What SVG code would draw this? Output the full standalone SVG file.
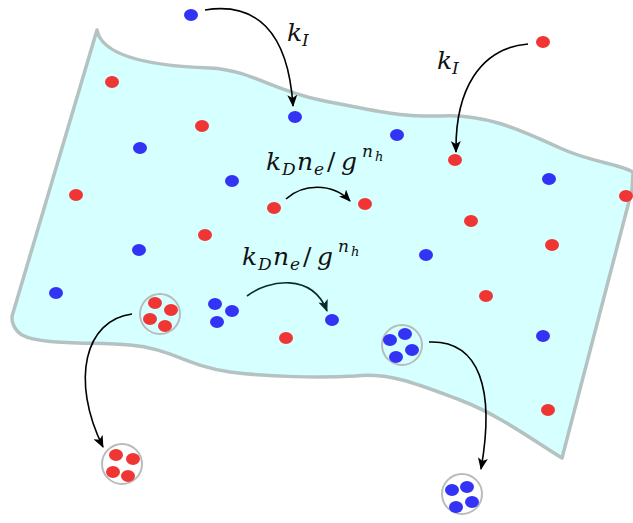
<svg xmlns="http://www.w3.org/2000/svg" width="633" height="523" viewBox="0 0 633 523">
<style>
.r{fill:#f03535}
.b{fill:#3333f5}
.cl{fill:none;stroke:#b8bcbc;stroke-width:2}
.m{font-family:"DejaVu Serif","Liberation Serif",serif;font-style:italic;font-size:25px;fill:#111}
.s{font-size:17px}
.ss{font-size:13px}
.up{font-style:normal}
.a{fill:none;stroke:#000;stroke-width:1.6}
.a2{fill:none;stroke:#0a2a2a;stroke-width:1.6}
</style>
<defs>
<marker id="ah" viewBox="0 0 12 10" refX="11" refY="5" markerWidth="12" markerHeight="10" markerUnits="userSpaceOnUse" orient="auto">
<path d="M0,0 L12,5 L0,10 L3,5 Z" fill="#000"/>
</marker>
<marker id="ah2" viewBox="0 0 12 10" refX="11" refY="5" markerWidth="12" markerHeight="10" markerUnits="userSpaceOnUse" orient="auto">
<path d="M0,0 L12,5 L0,10 L3,5 Z" fill="#0a2a2a"/>
</marker>
</defs>
<g id="membrane">
<path d="M97,30 C102,56 150,66 210,68 C250,70 272,90 320,100 C370,110 400,117 440,116 C485,113 520,130 560,148 C590,162 620,164 633,172 L632,190 C625,220 595,330 562,458 C540,445 500,415 460,400 C420,385 390,372 355,376 C320,378 270,377 230,372 C190,367 170,348 130,345 C90,342 40,345 22,335 C14,330 10,320 13,313 Z" fill="#d6ffff" stroke="#b4c2c2" stroke-width="3.5" stroke-linejoin="round"/>
</g>
<g id="particles">
<ellipse class="b" cx="191" cy="15" rx="7" ry="6"/>
<ellipse class="r" cx="543" cy="42" rx="7" ry="6"/>
<ellipse class="r" cx="112" cy="82" rx="7" ry="6"/>
<ellipse class="r" cx="202" cy="126" rx="7" ry="6"/>
<ellipse class="b" cx="295" cy="117" rx="7" ry="6"/>
<ellipse class="b" cx="397" cy="135" rx="7" ry="6"/>
<ellipse class="b" cx="140" cy="148" rx="7" ry="6"/>
<ellipse class="r" cx="455" cy="160" rx="7" ry="6"/>
<ellipse class="b" cx="232" cy="181" rx="7" ry="6"/>
<ellipse class="b" cx="549" cy="179" rx="7" ry="6"/>
<ellipse class="r" cx="76" cy="195" rx="7" ry="6"/>
<ellipse class="r" cx="274" cy="208" rx="7" ry="6"/>
<ellipse class="r" cx="365" cy="204" rx="7" ry="6"/>
<ellipse class="r" cx="626" cy="196" rx="7" ry="6"/>
<ellipse class="r" cx="471" cy="221" rx="7" ry="6"/>
<ellipse class="r" cx="205" cy="235" rx="7" ry="6"/>
<ellipse class="b" cx="139" cy="250" rx="7" ry="6"/>
<ellipse class="r" cx="552" cy="245" rx="7" ry="6"/>
<ellipse class="b" cx="426" cy="255" rx="7" ry="6"/>
<ellipse class="r" cx="486" cy="296" rx="7" ry="6"/>
<ellipse class="b" cx="56" cy="293" rx="7" ry="6"/>
<ellipse class="b" cx="215" cy="304" rx="7" ry="6"/>
<ellipse class="b" cx="232" cy="311" rx="7" ry="6"/>
<ellipse class="b" cx="217" cy="322" rx="7" ry="6"/>
<ellipse class="b" cx="332" cy="320" rx="7" ry="6"/>
<ellipse class="r" cx="286" cy="338" rx="7" ry="6"/>
<ellipse class="b" cx="543" cy="336" rx="7" ry="6"/>
<ellipse class="r" cx="548" cy="410" rx="7" ry="6"/>
</g>
<g id="cluster-red-in">
<circle class="cl" cx="160" cy="314" r="20"/>
<ellipse class="r" cx="155" cy="303" rx="7" ry="6"/>
<ellipse class="r" cx="171" cy="310" rx="7" ry="6"/>
<ellipse class="r" cx="150" cy="319" rx="7" ry="6"/>
<ellipse class="r" cx="165" cy="326" rx="7" ry="6"/>
</g>
<g id="cluster-blue-in">
<circle class="cl" cx="402" cy="345" r="20"/>
<ellipse class="b" cx="390" cy="340" rx="7" ry="6"/>
<ellipse class="b" cx="405" cy="334" rx="7" ry="6"/>
<ellipse class="b" cx="412" cy="350" rx="7" ry="6"/>
<ellipse class="b" cx="396" cy="357" rx="7" ry="6"/>
</g>
<g id="cluster-red-out">
<circle class="cl" cx="122" cy="464" r="20"/>
<ellipse class="r" cx="116" cy="455" rx="7" ry="6"/>
<ellipse class="r" cx="133" cy="459" rx="7" ry="6"/>
<ellipse class="r" cx="113" cy="472" rx="7" ry="6"/>
<ellipse class="r" cx="128" cy="476" rx="7" ry="6"/>
</g>
<g id="cluster-blue-out">
<circle class="cl" cx="462" cy="494" r="20"/>
<ellipse class="b" cx="452" cy="490" rx="7" ry="6"/>
<ellipse class="b" cx="467" cy="487" rx="7" ry="6"/>
<ellipse class="b" cx="472" cy="502" rx="7" ry="6"/>
<ellipse class="b" cx="456" cy="507" rx="7" ry="6"/>
</g>
<g id="connectors">
<path class="a" d="M205,10 C255,2 288,30 293,106" marker-end="url(#ah)"/>
<path class="a" d="M528,44 C480,48 455,90 456,152" marker-end="url(#ah)"/>
<path class="a" d="M286,199 C302,184 332,182 350,201" marker-end="url(#ah)"/>
<path class="a2" d="M247,296 C268,280 312,272 327,311" marker-end="url(#ah2)"/>
<path class="a" d="M132,314 C85,320 70,380 103,447" marker-end="url(#ah)"/>
<path class="a" d="M429,342 C480,340 495,390 481,469" marker-end="url(#ah)"/>
</g>
<g id="labels">
<text class="m" x="287" y="41">k</text><text class="m s" x="302" y="46">I</text>
<text class="m" x="437" y="69">k</text><text class="m s" x="452" y="74">I</text>
<text class="m" x="266" y="170">k</text><text class="m s" x="282" y="175">D</text><text class="m" x="297" y="170">n</text><text class="m s" x="314" y="175">e</text><text class="m up" x="327" y="170">/</text><text class="m" x="341" y="170">g</text><text class="m s" x="362" y="157">n</text><text class="m ss" x="375" y="161">h</text>
<text class="m" x="242" y="265">k</text><text class="m s" x="258" y="270">D</text><text class="m" x="273" y="265">n</text><text class="m s" x="290" y="270">e</text><text class="m up" x="303" y="265">/</text><text class="m" x="317" y="265">g</text><text class="m s" x="338" y="252">n</text><text class="m ss" x="351" y="256">h</text>
</g>
</svg>
